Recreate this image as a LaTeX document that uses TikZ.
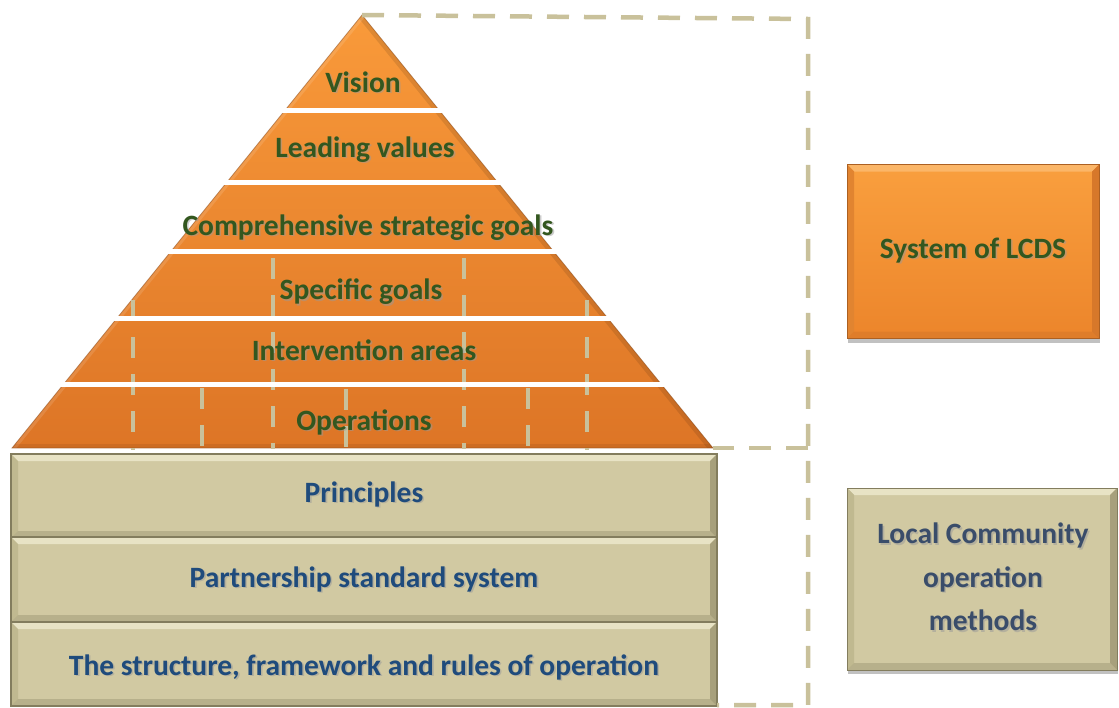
\documentclass[tikz,border=0pt]{standalone}
\usepackage{fontspec}
\setmainfont{Carlito}
\usetikzlibrary{shadows}
\definecolor{orA}{HTML}{F99A3A}
\definecolor{orB}{HTML}{DD7526}
\definecolor{beige}{HTML}{D1C9A2}
\definecolor{beigeL}{HTML}{E8E3C5}
\definecolor{beigeM}{HTML}{C0B990}
\definecolor{beigeD}{HTML}{A7A07C}
\definecolor{beigeE}{HTML}{837D5E}
\definecolor{dashc}{HTML}{C9C19B}
\definecolor{txtG}{HTML}{33571F}
\definecolor{txtB}{HTML}{1F4B7C}
\definecolor{txtS}{HTML}{3A4D6A}
\definecolor{boxA}{HTML}{F99F3E}
\definecolor{boxB}{HTML}{EC852B}
\definecolor{boxL}{HTML}{FBB668}
\definecolor{boxD}{HTML}{D7782A}
\newcommand\shtext[5][base]{%
  \node[lbl, anchor=#1, text=black!40, opacity=0.5] (#2s) at ([xshift=1.6pt,yshift=-1.6pt]#3) {#5};
  \node[lbl, anchor=#1, text=#4] (#2) at (#3) {#5};}
\tikzset{
  lbl/.style={font=\bfseries\fontsize{29.5}{43.5}\selectfont, align=center, inner sep=0pt},
  bevel/.style n args={4}{path picture={
    \fill[#1] (path picture bounding box.north west) -- (path picture bounding box.north east)
      -- ([xshift=-#4,yshift=-#4]path picture bounding box.north east)
      -- ([xshift=#4,yshift=-#4]path picture bounding box.north west) -- cycle;
    \fill[#2] (path picture bounding box.north west) -- ([xshift=#4,yshift=-#4]path picture bounding box.north west)
      -- ([xshift=#4,yshift=#4]path picture bounding box.south west) -- (path picture bounding box.south west) -- cycle;
    \fill[#3] (path picture bounding box.north east) -- ([xshift=-#4,yshift=-#4]path picture bounding box.north east)
      -- ([xshift=-#4,yshift=#4]path picture bounding box.south east) -- (path picture bounding box.south east) -- cycle;
    \fill[#3, opacity=0.6] (path picture bounding box.south west) -- ([xshift=#4,yshift=#4]path picture bounding box.south west)
      -- ([xshift=-#4,yshift=#4]path picture bounding box.south east) -- (path picture bounding box.south east) -- cycle;
  }},
  beigebox/.style={rectangle, fill=beige, draw=beigeE, line width=1.2pt, inner sep=0pt,
    minimum width=706, minimum height=84, bevel={beigeL}{beigeM}{beigeD}{7pt}},
  innerdash/.style={dashc, line width=4.5pt, dash pattern=on 21pt off 16pt},
  outerdash/.style={dashc, line width=4.5pt, dash pattern=on 22pt off 15pt},
  gap/.style={white, line width=5pt},
}
\begin{document}
\begin{tikzpicture}[x=1pt,y=-1pt]
\useasboundingbox (0,0) rectangle (1119,707);
\coordinate (apex) at (362,15);
\coordinate (bl) at (12,448);
\coordinate (br) at (713,448);
% pyramid
\shade[top color=orA, bottom color=orB] (apex) -- (br) -- (bl) -- cycle;
\begin{scope}
  \clip (apex) -- (br) -- (bl) -- cycle;
  \draw[line width=9pt, black, opacity=0.10] (apex) -- (br);
  \draw[line width=7pt, white, opacity=0.12] (apex) -- (bl);
  \draw[line width=8pt, black, opacity=0.07] (bl) -- (br);
\end{scope}
\draw[orB!60!black, opacity=0.5, line width=0.8pt] (apex) -- (br) -- (bl) -- cycle;
% inner dashed verticals
\draw[innerdash] (133,300) -- (133,450);
\draw[innerdash] (587,300) -- (587,450);
\draw[innerdash] (273,258) -- (273,449);
\draw[innerdash] (464,258) -- (464,449);
\draw[innerdash] (202,388) -- (202,449);
\draw[innerdash] (346,389) -- (346,449);
\draw[innerdash] (528,388) -- (528,449);
% white gaps
\foreach \yy in {110.5,182.5,251.5,318,384.5} \draw[gap] (0,\yy) -- (720,\yy);
% pyramid labels
\shtext{vision}{363,92}{txtG}{Vision}
\shtext{values}{365,157}{txtG}{Leading values}
\shtext{comp}{368,235}{txtG}{Comprehensive strategic goals}
\shtext{spec}{361,299.5}{txtG}{Specific goals}
\shtext{interv}{364,360}{txtG}{Intervention areas}
\shtext{oper}{364,430}{txtG}{Operations}
% beige stack
\node[beigebox] (p1) at (364,496) {};
\node[beigebox, minimum height=85] (p2) at (364,579.5) {};
\node[beigebox] (p3) at (364,664) {};
\shtext{princ}{p1.center |- 0,502}{txtB}{Principles}
\shtext{partner}{p2.center |- 0,587}{txtB}{Partnership standard system}
\shtext{struct}{p3.center |- 0,675}{txtB}{The structure, framework and rules of operation}
% dashed outline
\coordinate (tr) at (808,19);
\coordinate (mr) at (808,448);
\coordinate (brr) at (808,705);
\coordinate (bx) at (717,705);
\draw[outerdash] (apex) -- (tr) -- (brr) -- (bx);
\draw[outerdash] (mr) -- (br);
% right boxes
\node[rectangle, top color=boxA, bottom color=boxB, draw=boxD!80!black, line width=0.6pt,
  minimum width=252, minimum height=174, inner sep=0pt,
  bevel={boxL}{boxD!70!boxA}{boxD}{7pt},
  drop shadow={shadow xshift=1pt, shadow yshift=-4pt, opacity=0.35, fill=black!70}] (lcds) at (973,251.5) {};
\shtext{lcdst}{lcds.center |- 0,258}{txtG}{System of LCDS}
\node[rectangle, fill=beige, draw=beigeE, line width=0.6pt,
  minimum width=270, minimum height=182, inner sep=0pt,
  bevel={beigeL}{beigeM}{beigeD}{7pt},
  drop shadow={shadow xshift=1pt, shadow yshift=-4pt, opacity=0.35, fill=black!70}] (lcom) at (982,579) {};
\shtext[center]{lcomt}{983,577}{txtS}{Local Community\\operation\\methods}
\end{tikzpicture}
\end{document}
